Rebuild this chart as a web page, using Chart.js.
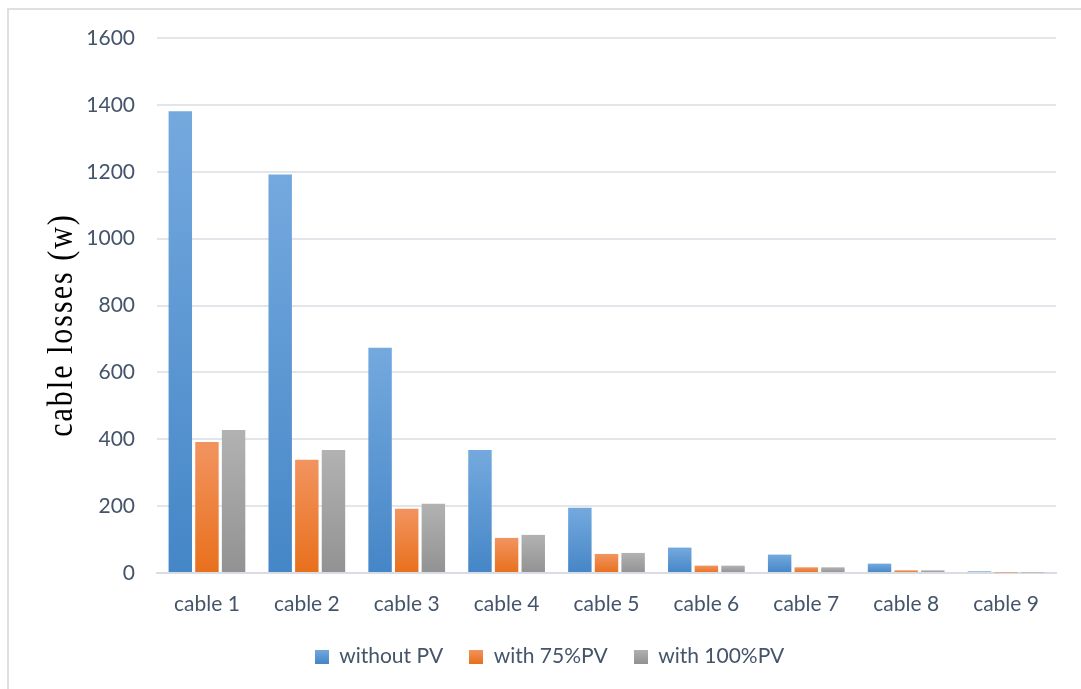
<!DOCTYPE html>
<html>
<head>
<meta charset="utf-8">
<title>Cable losses</title>
<script src="https://cdn.jsdelivr.net/npm/chart.js@4.4.1/dist/chart.umd.min.js"></script>
<style>
  html, body { margin: 0; padding: 0; background: #ffffff; }
  #wrap { position: relative; width: 1081px; height: 689px; overflow: hidden; }
  #frame { position: absolute; left: 7px; top: 8px; width: 1100px; height: 700px;
           border-left: 2px solid #dde1e6; border-top: 2px solid #dde1e6; box-sizing: border-box; }
  canvas { position: absolute; left: 0; top: 0; }
</style>
</head>
<body>
<div id="wrap">
  <div id="frame"></div>
  <canvas id="chart" width="1081" height="689"></canvas>
</div>
<script>
// Cable losses per cable for three PV scenarios
const categories = ['cable 1', 'cable 2', 'cable 3', 'cable 4', 'cable 5', 'cable 6', 'cable 7', 'cable 8', 'cable 9'];
const withoutPV = [1381, 1192, 674, 368, 195, 76, 55, 28, 5];
const with75PV  = [392, 339, 192, 105, 57, 22, 17, 8, 1];
const with100PV = [428, 368, 207, 114, 60, 22, 17, 8, 1];
const seriesNames = ['without PV', 'with 75%PV', 'with 100%PV'];
const yTicks = [0, 200, 400, 600, 800, 1000, 1200, 1400, 1600];
const axisTitle = 'cable losses (w)';

const textColor = '#44546a';
const uiFont = 'Lato, "Noto Sans", sans-serif';

// Per-bar vertical gradient: lighter at the top, deeper at the base
const palettes = [
  { top: '#74a9de', bottom: '#4586c7' },
  { top: '#f29460', bottom: '#e8701c' },
  { top: '#b2b2b2', bottom: '#929292' }
];

function barFill(idx) {
  return function (ctx) {
    const chart = ctx.chart;
    const pal = palettes[idx];
    if (!chart.chartArea || ctx.type !== 'data') {
      const g = chart.ctx.createLinearGradient(0, 0, 0, 14);
      g.addColorStop(0, pal.top);
      g.addColorStop(1, pal.bottom);
      return g;
    }
    const y = chart.scales.y;
    const top = y.getPixelForValue(ctx.raw);
    const base = y.getPixelForValue(0);
    const g = chart.ctx.createLinearGradient(0, top, 0, Math.max(base, top + 1));
    g.addColorStop(0, pal.top);
    g.addColorStop(1, pal.bottom);
    return g;
  };
}

// Legend swatches use a small fixed gradient
function swatch(idx) {
  const c = document.createElement('canvas');
  c.width = 14; c.height = 14;
  const x = c.getContext('2d');
  const g = x.createLinearGradient(0, 0, 0, 14);
  g.addColorStop(0, palettes[idx].top);
  g.addColorStop(1, palettes[idx].bottom);
  x.fillStyle = g;
  x.fillRect(0, 0, 14, 14);
  return c;
}

// Rotated serif axis caption on the left
const axisCaption = {
  id: 'axisCaption',
  afterDraw(chart) {
    const c = chart.ctx;
    c.save();
    c.translate(63, 325);
    c.rotate(-Math.PI / 2);
    c.scale(1, 1.2);
    c.font = '30px "Liberation Serif", "DejaVu Serif", serif';
    if ('letterSpacing' in c) c.letterSpacing = '2px';
    c.fillStyle = '#000000';
    c.textAlign = 'center';
    c.textBaseline = 'middle';
    c.fillText(axisTitle, 0, 0);
    c.restore();
  }
};

const datasets = [withoutPV, with75PV, with100PV].map((vals, i) => ({
  label: seriesNames[i],
  data: vals,
  backgroundColor: barFill(i),
  borderWidth: 0,
  categoryPercentage: 0.8,
  barPercentage: 0.88
}));

new Chart(document.getElementById('chart'), {
  type: 'bar',
  data: { labels: categories, datasets },
  options: {
    responsive: false,
    animation: false,
    devicePixelRatio: 1,
    layout: { padding: { top: 38, right: 25, left: 43, bottom: 12 } },
    scales: {
      x: {
        grid: { display: false, drawTicks: false },
        border: { display: true, color: '#d9dde3', width: 2 },
        ticks: { color: textColor, font: { family: uiFont, size: 21 }, padding: 19 },
        afterFit(scale) { scale.height = 47; }
      },
      y: {
        min: 0,
        max: 1600,
        afterBuildTicks(scale) { scale.ticks = yTicks.map(v => ({ value: v })); },
        grid: { color: '#e2e5ea', lineWidth: 2, drawTicks: false },
        border: { display: false },
        ticks: {
          color: textColor,
          font: { family: uiFont, size: 21 },
          padding: 22,
          callback: v => String(v)
        },
        afterFit(scale) { scale.width = 114; }
      }
    },
    plugins: {
      legend: {
        position: 'bottom',
        labels: {
          color: textColor,
          font: { family: uiFont, size: 21 },
          boxWidth: 14,
          boxHeight: 14,
          padding: 26,
          usePointStyle: true,
          generateLabels(chart) {
            return chart.data.datasets.map((ds, i) => ({
              text: ds.label,
              pointStyle: swatch(i),
              fontColor: textColor,
              lineWidth: 0,
              strokeStyle: 'transparent',
              datasetIndex: i,
              hidden: false
            }));
          }
        }
      },
      tooltip: { enabled: false }
    }
  },
  plugins: [axisCaption]
});
</script>
</body>
</html>
